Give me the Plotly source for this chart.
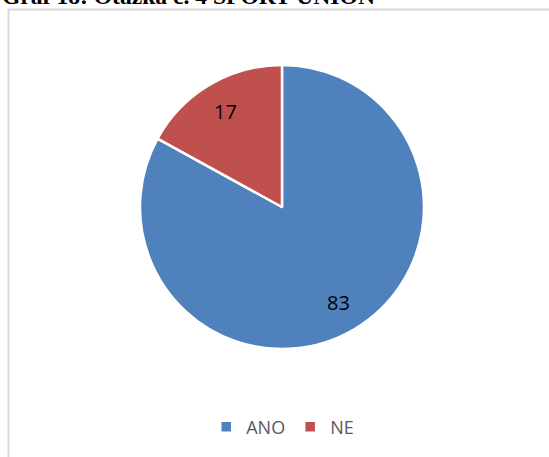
import math
import plotly.graph_objects as go

# Survey answers for question 4 (SPORT UNION)
labels = ["ANO", "NE"]
values = [83, 17]
colors = ["#4F81BD", "#C0504D"]
title_text = "Graf 18: Otázka č. 4 SPORT UNION"

W, H = 549, 457

# pie placement in pixels (center and radius)
cx, cy, r = 282, 207, 142
label_radius = 0.785  # fraction of the radius where value labels sit

fig = go.Figure(
    go.Pie(
        labels=labels,
        values=values,
        sort=False,
        direction="clockwise",
        rotation=0,
        marker=dict(colors=colors, line=dict(color="white", width=2.5)),
        textinfo="none",
        hoverinfo="label+value",
        domain=dict(
            x=[(cx - r) / W, (cx + r) / W],
            y=[(H - cy - r) / H, (H - cy + r) / H],
        ),
        showlegend=True,
    )
)

# value labels placed along each slice's bisector
annotations = []
total = sum(values)
start = 0.0
for v in values:
    mid = (start + v / 2) / total * 2 * math.pi  # clockwise from 12 o'clock
    px = cx + label_radius * r * math.sin(mid)
    py = cy - label_radius * r * math.cos(mid)
    annotations.append(
        dict(
            text=str(v),
            xref="paper",
            yref="paper",
            x=px / W,
            y=1 - py / H,
            xanchor="center",
            yanchor="middle",
            showarrow=False,
            font=dict(family="Open Sans, sans-serif", size=20, color="black"),
        )
    )
    start += v

annotations.append(
    dict(
        text=f"<b>{title_text}</b>",
        xref="paper",
        yref="paper",
        x=0,
        xanchor="left",
        y=1 + 4 / H,
        yanchor="middle",
        showarrow=False,
        font=dict(family="Liberation Serif, Times New Roman, serif", size=23.6, color="black"),
    )
)

fig.update_layout(
    width=W,
    height=H,
    margin=dict(l=0, r=0, t=0, b=0),
    paper_bgcolor="white",
    plot_bgcolor="white",
    legend=dict(
        orientation="h",
        x=0.515,
        xanchor="center",
        y=(H - 427) / H,
        yanchor="middle",
        font=dict(family="Open Sans, sans-serif", size=18, color="#595959"),
        itemwidth=30,
        traceorder="normal",
    ),
    shapes=[
        dict(
            type="rect",
            xref="paper",
            yref="paper",
            x0=8.5 / W,
            x1=1.2,
            y0=-0.2,
            y1=1 - 9.5 / H,
            line=dict(color="#D9D9D9", width=2),
            fillcolor="rgba(0,0,0,0)",
            layer="below",
        )
    ],
    annotations=annotations,
)

fig.write_html("out.html")
